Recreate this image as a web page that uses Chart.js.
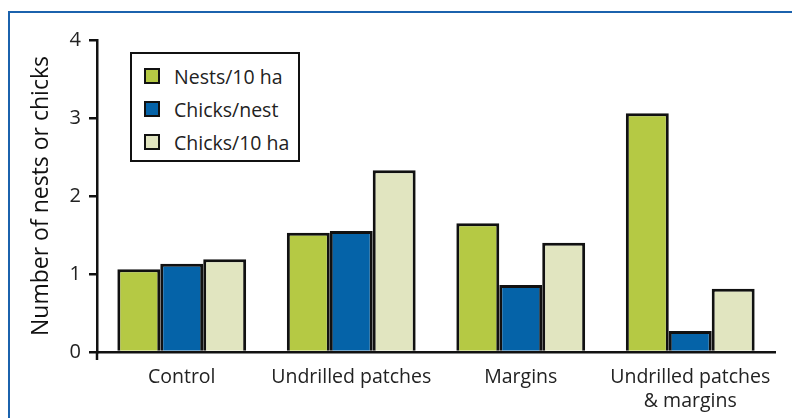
<!DOCTYPE html>
<html>
<head>
<meta charset="utf-8">
<script src="https://cdn.jsdelivr.net/npm/chart.js@4"></script>
<style>
  body { margin: 0; background: #fff; overflow: hidden; font-family: "Open Sans", sans-serif; }
  #wrap { position: relative; width: 792px; height: 418px; overflow: hidden; }
  #frame { position: absolute; left: 8px; top: 11px; width: 900px; height: 500px;
           border-left: 2.5px solid #1b62ad; border-top: 2.5px solid #1b62ad; }
  #chart { position: absolute; left: 0; top: 0; }
  #legend { position: absolute; left: 130px; top: 52px; width: 166px; height: 106px;
            border: 2px solid #111; background: #fff; }
  .item { position: absolute; left: 12px; height: 20px; display: flex; align-items: center;
          font-size: 19.5px; color: #222; }
  .sw { width: 12px; height: 12px; border: 2px solid #111; margin-right: 14px; }
</style>
</head>
<body>
<div id="wrap">
  <div id="frame"></div>
  <canvas id="chart" width="792" height="418"></canvas>
  <div id="legend"></div>
</div>
<script>
// categories and series
const categories = ["Control", "Undrilled patches", "Margins", ["Undrilled patches", "& margins"]];
const seriesNames = ["Nests/10 ha", "Chicks/nest", "Chicks/10 ha"];
const nestsPer10ha = [1.06, 1.53, 1.65, 3.06];
const chicksPerNest = [1.13, 1.55, 0.86, 0.27];
const chicksPer10ha = [1.19, 2.33, 1.40, 0.81];
const yTicks = [0, 1, 2, 3, 4];

const colors = ["#b5c944", "#0563a8", "#e1e5c0"];
const values = [nestsPer10ha, chicksPerNest, chicksPer10ha];

const datasets = seriesNames.map((name, i) => ({
  label: name,
  data: values[i],
  backgroundColor: colors[i],
  borderColor: "#111",
  borderWidth: 3,
  borderSkipped: "start"
}));

// legend box (html)
const legend = document.getElementById("legend");
seriesNames.forEach((name, i) => {
  const row = document.createElement("div");
  row.className = "item";
  row.style.top = (12 + i * 33) + "px";
  row.innerHTML = '<div class="sw" style="background:' + colors[i] + '"></div>' + name;
  legend.appendChild(row);
});

// y axis runs a little below zero in the original
const axisStub = {
  id: "axisStub",
  afterDraw(chart) {
    const ctx = chart.ctx, y = chart.scales.y;
    ctx.save();
    ctx.strokeStyle = "#111";
    ctx.lineWidth = 2.5;
    ctx.beginPath();
    ctx.moveTo(y.right, y.bottom);
    ctx.lineTo(y.right, y.bottom + 8);
    ctx.stroke();
    ctx.restore();
  }
};

new Chart(document.getElementById("chart"), {
  type: "bar",
  data: { labels: categories, datasets: datasets },
  options: {
    responsive: false,
    animation: false,
    layout: { padding: { top: 40, right: 17, left: 0, bottom: 0 } },
    datasets: { bar: { categoryPercentage: 0.76, barPercentage: 1.0 } },
    plugins: { legend: { display: false }, tooltip: { enabled: false } },
    scales: {
      x: {
        grid: { display: false },
        border: { color: "#111", width: 2.5 },
        ticks: { color: "#222", font: { family: "Open Sans", size: 19.5, lineHeight: 1.2 }, padding: 6, maxRotation: 0 },
        afterFit(s) { s.height = 66; }
      },
      y: {
        min: 0, max: 4,
        afterBuildTicks(s) { s.ticks = yTicks.map(v => ({ value: v })); },
        grid: { drawOnChartArea: false, drawTicks: true, tickLength: 8, color: "#111", lineWidth: 2.5 },
        border: { color: "#111", width: 2.5 },
        ticks: { color: "#222", font: { family: "Open Sans", size: 20 }, padding: 8 },
        title: { display: true, text: "Number of nests or chicks", color: "#111",
                 font: { family: "Open Sans", size: 23 }, padding: { top: 28, bottom: 0 } },
        afterFit(s) { s.width = 97; }
      }
    }
  },
  plugins: [axisStub]
});
</script>
</body>
</html>
